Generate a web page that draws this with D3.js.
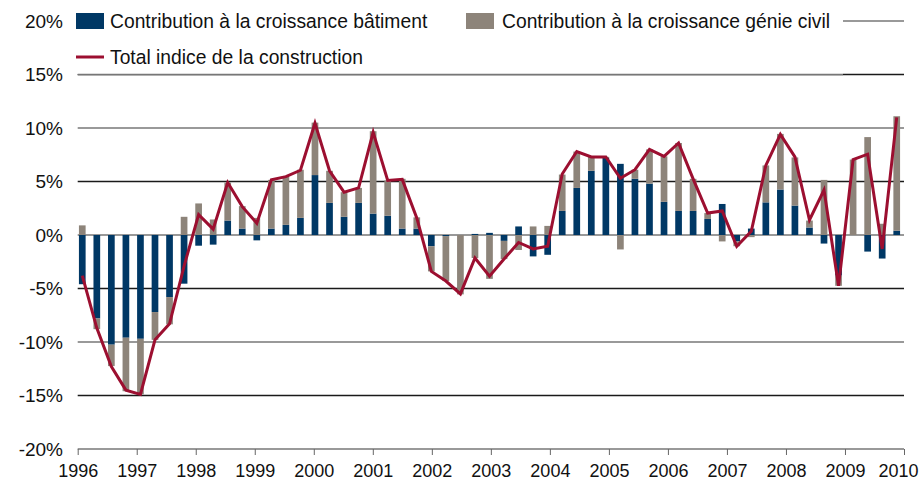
<!DOCTYPE html>
<html>
<head>
<meta charset="utf-8">
<script src="https://cdn.jsdelivr.net/npm/d3@7"></script>
<style>
	body { margin: 0; background: #fff; }
	text { font-family: "Liberation Sans", Arial, sans-serif; }
</style>
</head>
<body>
<svg width="920" height="487"></svg>
<script>

// quarters 1996Q1 .. 2010Q1
var quarters = [];
for ( var yr = 1996; yr <= 2010; yr++ ) {
	for ( var q = 1; q <= 4; q++ ) {
		if ( yr == 2010 && q > 1 ) { break; }
		quarters.push(yr + "Q" + q);
	}
}

// contribution batiment (%)
var batiment = [
	-4.6, -7.8, -10.25, -9.6,
	-9.7, -7.2, -5.8, -4.55,
	-1.0, -0.9, 1.35, 0.6,
	-0.5, 0.6, 0.95, 1.6,
	5.6, 3.0, 1.7, 3.0,
	2.0, 1.8, 0.6, 0.6,
	-1.05, -0.1, 0.0, 0.1,
	0.2, -0.55, 0.8, -2.0,
	-1.85, 2.25, 4.4, 6.0,
	7.2, 6.65, 5.25, 4.8,
	3.1, 2.25, 2.25, 1.5,
	2.9, -0.6, 0.6, 3.05,
	4.25, 2.75, 0.7, -0.8,
	-3.8, 0.0, -1.55, -2.2,
	0.4
];

// contribution genie civil (%)
var genieCivil = [
	0.9, -1.0, -2.0, -5.0,
	-5.2, -2.6, -2.55, 1.7,
	2.95, 1.45, 3.55, 2.1,
	1.6, 4.55, 4.5, 4.5,
	4.9, 3.0, 2.3, 1.4,
	7.7, 3.3, 4.65, 1.05,
	-2.35, -4.2, -5.55, -2.15,
	-4.1, -1.7, -1.4, 0.8,
	0.85, 3.4, 3.4, 1.35,
	0.1, -1.35, 0.85, 3.2,
	4.25, 6.35, 3.0, 0.55,
	-0.6, -0.45, -0.2, 3.45,
	5.2, 4.5, 0.65, 5.15,
	-0.95, 7.05, 9.15, 1.05,
	10.7
];

// total indice de la construction (%)
var total = [
	-3.8, -8.7, -12.3, -14.5,
	-14.9, -9.8, -8.3, -2.9,
	1.9, 0.55, 4.9, 2.65,
	1.1, 5.15, 5.45, 6.05,
	10.45, 6.0, 4.0, 4.4,
	9.6, 5.1, 5.2, 1.6,
	-3.4, -4.3, -5.5, -2.15,
	-3.85, -2.25, -0.7, -1.3,
	-1.05, 5.7, 7.8, 7.3,
	7.3, 5.3, 6.1, 8.0,
	7.35, 8.6, 5.25, 2.05,
	2.25, -1.05, 0.35, 6.5,
	9.4, 7.3, 1.4, 4.2,
	-4.75, 7.05, 7.55, -1.3,
	11.0
];

var yTicks = [20, 15, 10, 5, 0, -5, -10, -15, -20];
var years = d3.range(1996, 2011);

var legendLabels = [
	"Contribution à la croissance bâtiment",
	"Contribution à la croissance génie civil",
	"Total indice de la construction"
];

var colBat = "#003865",
	colCivil = "#8d847a",
	colTotal = "#9c0f30";

// The svg
var svg = d3.select("svg"),
	width = +svg.attr("width"),
	height = +svg.attr("height");

var left = 77.7, right = 904;

// scales
var y = d3.scaleLinear()
			.domain([-20, 20])
			.range([449, 21]);

var x = d3.scaleBand()
			.domain(quarters)
			.range([75, right])
			.paddingInner(0.54)
			.paddingOuter(0.27);

var xYear = d3.scaleLinear()
			.domain([1996, 2010])
			.range([left, right]);

// gridlines
svg.append("g")
	.selectAll("line")
	.data(yTicks)
	.enter()
	.append("line")
		.attr("x1", left)
		.attr("x2", right)
		.attr("y1", function(d) { return y(d); })
		.attr("y2", function(d) { return y(d); })
		.attr("stroke", function(d) { return (d % 10 == 0) ? "#777" : "#1a1a1a"; })
		.attr("stroke-width", 1.5);

// y labels
svg.append("g")
	.selectAll("text")
	.data(yTicks)
	.enter()
	.append("text")
		.attr("x", 63)
		.attr("y", function(d) { return y(d); })
		.attr("dy", "0.36em")
		.attr("text-anchor", "end")
		.style("font-size", "19px")
		.style("fill", "#111")
		.text(function(d) { return d + "%"; });

// stacked bars
var table = quarters.map(function(q, i) {
	return { q: q, bat: batiment[i], civil: genieCivil[i] };
});

var series = d3.stack()
			.keys(["bat", "civil"])
			.offset(d3.stackOffsetDiverging)(table);

svg.append("g")
	.selectAll("g")
	.data(series)
	.enter()
	.append("g")
		.attr("fill", function(d) { return d.key == "bat" ? colBat : colCivil; })
	.selectAll("rect")
	.data(function(d) { return d; })
	.enter()
	.append("rect")
		.attr("x", function(d) { return x(d.data.q); })
		.attr("width", x.bandwidth())
		.attr("y", function(d) { return y(Math.max(d[0], d[1])); })
		.attr("height", function(d) { return Math.abs(y(d[0]) - y(d[1])); });

// total line
var line = d3.line()
			.x(function(d, i) { return x(quarters[i]) + x.bandwidth() / 2; })
			.y(function(d) { return y(d); });

svg.append("path")
	.datum(total)
	.attr("d", line)
	.attr("fill", "none")
	.attr("stroke", colTotal)
	.attr("stroke-width", 3)
	.attr("stroke-linejoin", "miter");

// x axis
var xAxis = d3.axisBottom(xYear)
			.tickValues(years)
			.tickFormat(d3.format("d"))
			.tickSize(6)
			.tickPadding(9);

var gx = svg.append("g")
	.attr("transform", "translate(0," + y(-20) + ")")
	.call(xAxis);

gx.select(".domain").remove();
gx.selectAll(".tick line").attr("stroke", "#666");
gx.selectAll(".tick text")
	.style("font-size", "18px")
	.style("font-family", "'Liberation Sans', Arial, sans-serif")
	.style("fill", "#111");

// last label would run off the edge, pull it in
gx.selectAll(".tick text")
	.filter(function(d) { return d == 2010; })
	.attr("text-anchor", "end")
	.attr("x", width - 2 - right);

// legend (white box sits on top of the upper gridlines)
var legend = svg.append("g");

legend.append("rect")
	.attr("x", 70)
	.attr("y", 0)
	.attr("width", 773)
	.attr("height", y(15) - 0.5)
	.attr("fill", "#fff");

legend.append("line")
	.attr("x1", left)
	.attr("x2", 843)
	.attr("y1", y(15))
	.attr("y2", y(15))
	.attr("stroke", "#777")
	.attr("stroke-width", 1.5);

legend.append("rect")
	.attr("x", 76).attr("y", 13)
	.attr("width", 28).attr("height", 16)
	.attr("fill", colBat);

legend.append("rect")
	.attr("x", 466).attr("y", 13)
	.attr("width", 28).attr("height", 16)
	.attr("fill", colCivil);

legend.append("line")
	.attr("x1", 76).attr("x2", 104)
	.attr("y1", 57).attr("y2", 57)
	.attr("stroke", colTotal)
	.attr("stroke-width", 3);

var legPos = [[110, 21], [502, 21], [110, 57]];

legend.selectAll("text")
	.data(legendLabels)
	.enter()
	.append("text")
		.attr("x", function(d, i) { return legPos[i][0]; })
		.attr("y", function(d, i) { return legPos[i][1]; })
		.attr("dy", "0.36em")
		.style("font-size", "19.3px")
		.style("fill", "#111")
		.text(function(d) { return d; });

</script>
</body>
</html>
